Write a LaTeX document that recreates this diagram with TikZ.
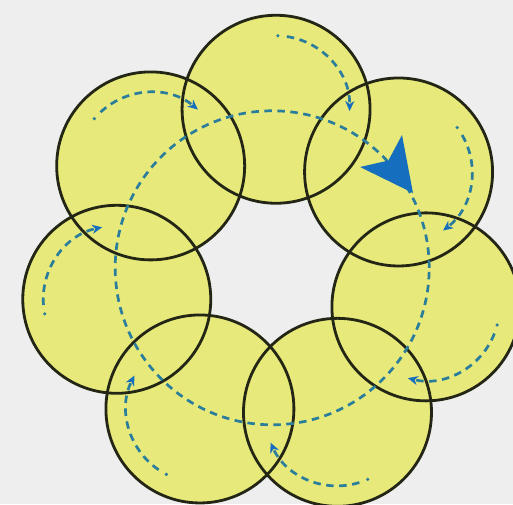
\documentclass[tikz,border=0pt]{standalone}
\usetikzlibrary{arrows.meta,calc}
\definecolor{bg}{RGB}{238,238,238}
\definecolor{disc}{RGB}{231,233,122}
\definecolor{rim}{RGB}{35,38,20}
\definecolor{dashc}{RGB}{42,125,155}
\definecolor{arrc}{RGB}{22,110,190}
\begin{document}
\begin{tikzpicture}[x=1pt,y=1pt,
  diskfill/.style={fill=disc},
  rimline/.style={draw=rim,line width=2.8pt},
  flow/.style={draw=dashc,line width=2.7pt,dash pattern=on 7.5pt off 5.5pt},
  flowtip/.style={-{Stealth[length=10pt,width=9pt,inset=3pt,color=arrc]}},
  bigtip/.style={fill=arrc}
]
\fill[bg] (-272.2,-236.2) rectangle (240.8,267.8);
\useasboundingbox (-272.2,-236.2) rectangle (240.8,267.8);
\coordinate (o) at (0,0);
\foreach \i in {0,...,6} {
  \coordinate (c\i) at ({88.6-51.43*\i}:158.6);
}
\foreach \i in {0,...,6} {
  \fill[diskfill] (c\i) circle[radius=94];
}
\foreach \i in {0,...,6} {
  \draw[rimline] (c\i) circle[radius=94];
}
\draw[flow] (o) circle[radius=157];
\foreach \i in {0,...,6} {
  \pgfmathsetmacro\a{88.6-51.43*\i}
  \fill[dashc] (c\i) ++(\a:73.5) circle[radius=1.8];
  \draw[flow,flowtip] (c\i) ++(\a-7:73.5) arc[start angle=\a-7, end angle=\a-90, radius=73.5];
}
\coordinate (tipA) at (140.8,74.8);
\coordinate (barbA) at (87.8,100.8);
\coordinate (notchA) at (116.2,107.3);
\coordinate (barbB) at (129.8,132.8);
\fill[bigtip] (tipA) -- (barbA) -- (notchA) -- (barbB) -- cycle;
\end{tikzpicture}
\end{document}
